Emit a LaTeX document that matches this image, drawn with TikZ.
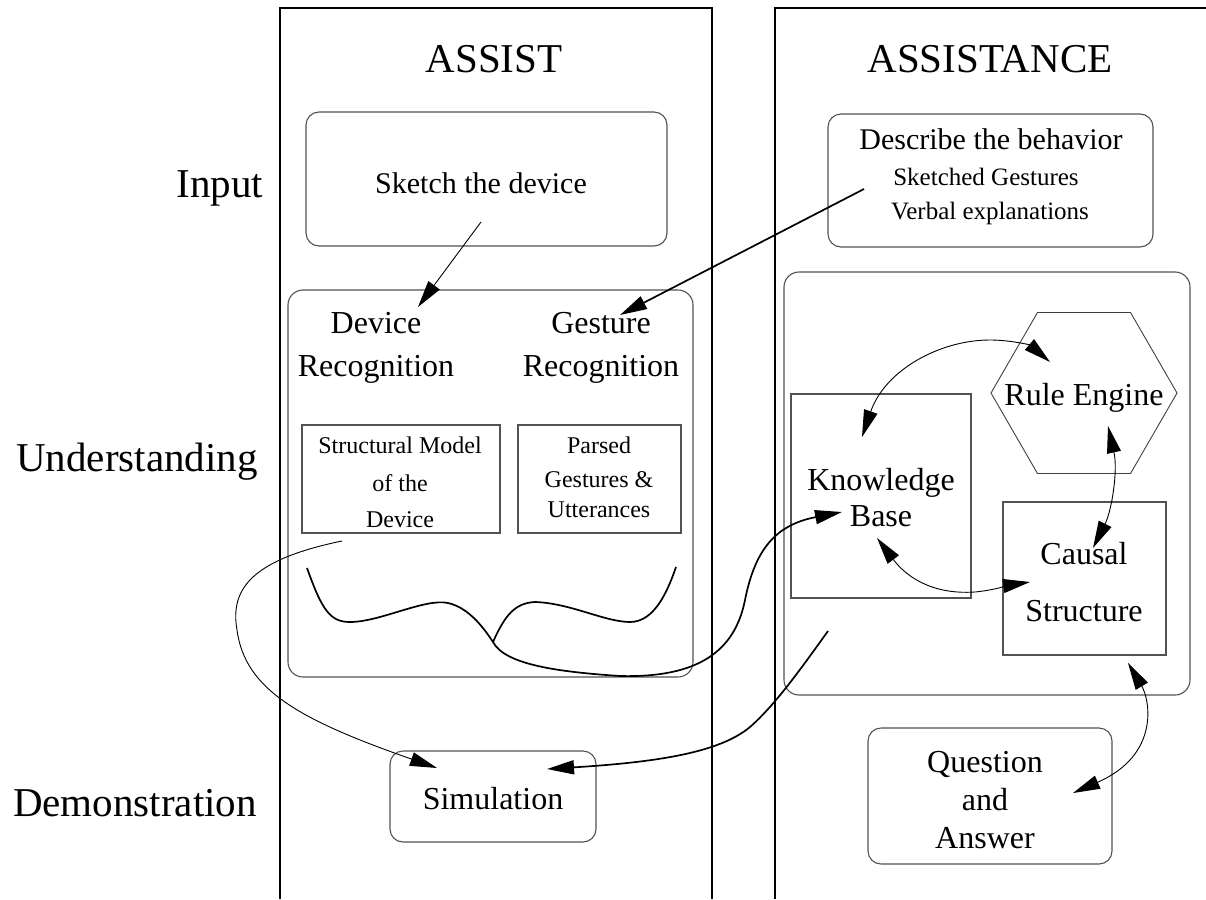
\documentclass[tikz,border=0pt]{standalone}
\usepackage{fontspec}
\setmainfont{Liberation Serif}
\usetikzlibrary{arrows.meta,shapes.geometric}
\begin{document}
\begin{tikzpicture}[x=1pt,y=-1pt,
  col/.style={line width=1.8pt,black},
  boxline/.style={draw=black!68,line width=1.1pt,inner sep=0pt},
  rbox/.style={boxline,rounded corners=13pt},
  sbox/.style={boxline},
  txt/.style={anchor=base,inner sep=0pt},
  fhuge/.style={font=\fontsize{41}{49}\selectfont},
  fbig/.style={font=\fontsize{32}{38}\selectfont},
  fmed/.style={font=\fontsize{30}{36}\selectfont},
  fsmall/.style={font=\fontsize{25}{30}\selectfont},
  fsm/.style={font=\fontsize{24}{29}\selectfont},
  tipA/.style={-{Triangle[length=27pt,width=14pt]}},
  tipB/.style={{Triangle[length=27pt,width=14pt]}-{Triangle[length=27pt,width=14pt]}},
  thin/.style={line width=0.9pt,black},
  thickln/.style={line width=1.7pt,black}
]
\useasboundingbox (0,0) rectangle (1206,899);

% columns
\draw[col] (280,899) -- (280,8) -- (712,8) -- (712,899);
\draw[col] (775,899) -- (775,8) -- (1212,8);

% column titles and row labels
\node[txt,fhuge] (tA) at (494,73) {ASSIST};
\node[txt,fhuge] (tB) at (990,73) {ASSISTANCE};
\node[txt,fhuge] (lIn) at (220,197) {Input};
\node[txt,fhuge] (lUn) at (137,471) {Understanding};
\node[txt,fhuge] (lDe) at (135,816) {Demonstration};

% boxes
\node[rbox,minimum width=361pt,minimum height=134pt] (sketch) at (486.5,179) {};
\node[rbox,minimum width=325pt,minimum height=133pt] (desc) at (990.5,180.5) {};
\node[rbox,rounded corners=15pt,minimum width=405pt,minimum height=387pt] (lund) at (490.5,483.5) {};
\node[rbox,rounded corners=15pt,minimum width=406pt,minimum height=423pt] (rund) at (987,483.5) {};
\node[sbox,minimum width=198pt,minimum height=108pt] (struct) at (401,479) {};
\node[sbox,minimum width=163pt,minimum height=108pt] (parsed) at (599.5,479) {};
\node[sbox,minimum width=180pt,minimum height=204pt] (kb) at (881,496) {};
\node[sbox,minimum width=163pt,minimum height=153pt] (causal) at (1084.5,578.5) {};
\node[boxline,draw=black!75,line width=0.9pt,regular polygon,regular polygon sides=6,minimum size=186pt] (re) at (1084,393) {};
\node[rbox,minimum width=244pt,minimum height=136pt] (qa) at (990,796) {};
\node[rbox,minimum width=206pt,minimum height=91pt] (sim) at (493,796.5) {};

% texts
\node[txt,fmed] (tSk) at (481,193) {Sketch the device};
\node[txt,fmed] (tD1) at (991,149) {Describe the behavior};
\node[txt,fsmall] (tD2) at (986,185) {Sketched Gestures};
\node[txt,fsmall] (tD3) at (990,219) {Verbal explanations};
\node[txt,fbig] (tDR1) at (376,333) {Device};
\node[txt,fbig] (tDR2) at (376,376) {Recognition};
\node[txt,fbig] (tGR1) at (601,333) {Gesture};
\node[txt,fbig] (tGR2) at (601,376) {Recognition};
\node[txt,fsm] (tS1) at (400,453) {Structural Model};
\node[txt,fsm] (tS2) at (400,491) {of the};
\node[txt,fsm] (tS3) at (400,527) {Device};
\node[txt,fsm] (tP1) at (599,453) {Parsed};
\node[txt,fsm] (tP2) at (599,487) {Gestures \&};
\node[txt,fsm] (tP3) at (599,517) {Utterances};
\node[txt,fbig] (tK1) at (881,490) {Knowledge};
\node[txt,fbig] (tK2) at (881,526) {Base};
\node[txt,fbig] (tR) at (1084,405) {Rule Engine};
\node[txt,fbig] (tC1) at (1084,564) {Causal};
\node[txt,fbig] (tC2) at (1084,621) {Structure};
\node[txt,fbig] (tQ1) at (985,772) {Question};
\node[txt,fbig] (tQ2) at (985,810) {and};
\node[txt,fbig] (tQ3) at (985,848) {Answer};
\node[txt,fbig] (tSim) at (493,809) {Simulation};

% connector end points
\coordinate (skA) at (481,222);
\coordinate (skB) at (418,307);
\coordinate (dsA) at (864,189);
\coordinate (dsB) at (620,315);
\coordinate (mL) at (307,568);
\coordinate (mC) at (493,642);
\coordinate (mR) at (676,567);
\coordinate (kbIn) at (842,512);
\coordinate (devOut) at (342,541);
\coordinate (simL) at (437,768);
\coordinate (ruOut) at (828,631);
\coordinate (simR) at (547,769);
\coordinate (kbT) at (862,437);
\coordinate (reL) at (1050,362);
\coordinate (kbB) at (877,538);
\coordinate (csL) at (1030,582);
\coordinate (reB) at (1108,426);
\coordinate (csT) at (1093,548);
\coordinate (csB) at (1128,663);
\coordinate (qaR) at (1073,793);

% connectors
\draw[thin,tipA] (skA) -- (skB);
\draw[thickln,tipA] (dsA) -- (dsB);

% moustache and long curve to knowledge base
\draw[thickln,tipA] (mL) .. controls (322,610) and (330,622) .. (350,622)
  .. controls (380,622) and (425,598) .. (448,603)
  .. controls (470,608) and (485,630) .. (mC)
  .. controls (505,665) and (560,672) .. (620,676)
  .. controls (700,678) and (735,650) .. (745,600)
  .. controls (755,550) and (775,525) .. (kbIn);
\draw[thickln] (mC) .. controls (505,615) and (515,603) .. (535,602)
  .. controls (570,603) and (605,622) .. (630,622)
  .. controls (655,622) and (668,590) .. (mR);

% device -> simulation
\draw[thin,tipA] (devOut) .. controls (250,560) and (230,590) .. (237,630)
  .. controls (245,690) and (300,720) .. (simL);
% understanding -> simulation
\draw[thickln,tipA] (ruOut) .. controls (800,670) and (775,705) .. (750,727)
  .. controls (720,752) and (660,762) .. (simR);

% knowledge base <-> rule engine
\draw[thin,tipB] (kbT) .. controls (885,370) and (940,340) .. (990,340)
  .. controls (1010,340) and (1030,345) .. (reL);
% knowledge base <-> causal
\draw[thin,tipB] (kbB) .. controls (905,575) and (930,595) .. (975,592)
  .. controls (995,590) and (1010,585) .. (csL);
% rule engine <-> causal
\draw[thin,tipB] (reB) .. controls (1118,470) and (1112,510) .. (csT);
% causal <-> question
\draw[thin,tipB] (csB) .. controls (1150,700) and (1160,755) .. (qaR);
\end{tikzpicture}
\end{document}
